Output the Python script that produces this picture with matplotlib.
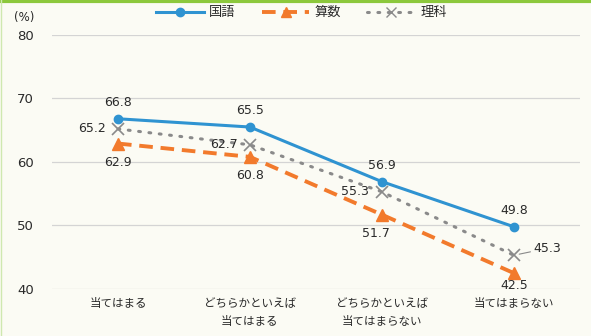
import matplotlib as mpl
mpl.use("Agg")
import matplotlib.pyplot as plt
from matplotlib.lines import Line2D

plt.rcParams["font.family"] = ["DejaVu Sans", "Noto Sans CJK JP"]

categories = ["当てはまる", "どちらかといえば\n当てはまる", "どちらかといえば\n当てはまらない", "当てはまらない"]
kokugo = [66.8, 65.5, 56.9, 49.8]
sansu = [62.9, 60.8, 51.7, 42.5]
rika = [65.2, 62.7, 55.3, 45.3]
series_names = ["国語", "算数", "理科"]

BLUE = "#2f93d1"
ORANGE = "#f27a2c"
GRAY = "#8a8a8a"
BG = "#fbfbf4"
TXT = "#2a2a2a"

fig = plt.figure(figsize=(5.91, 3.36), dpi=100, facecolor=BG)
ax = fig.add_axes([0.088, 0.140, 0.893, 0.756], facecolor=BG)
x = list(range(len(categories)))

ax.plot(x, kokugo, color=BLUE, lw=2.2, marker="o", ms=6, zorder=4)
ax.plot(x, sansu, color=ORANGE, lw=2.8, ls=(0, (3.5, 2)), marker="^", ms=8, zorder=3)
ax.plot(x, rika, color=GRAY, lw=2.2, ls=(0, (0.6, 2.8)), dash_capstyle="round",
        marker="x", ms=8, mew=1.2, zorder=3)

ax.set_xlim(-0.5, 3.5)
ax.set_ylim(40, 80)
ax.set_yticks([40, 50, 60, 70, 80])
ax.grid(axis="y", color="#d4d4d4", lw=0.9)
ax.set_axisbelow(True)
for s in ax.spines.values():
    s.set_visible(False)
ax.tick_params(length=0, labelsize=9.5, colors=TXT, pad=13)
ax.tick_params(axis="x", labelsize=8.3, pad=6)
ax.set_xticks(x)
ax.set_xticklabels(categories, family=["Noto Sans CJK JP"], linespacing=1.45)
ax.text(-0.052, 1.045, "(%)", transform=ax.transAxes, fontsize=8.5, color=TXT,
        ha="center", va="bottom")

lab = dict(fontsize=9, color=TXT)
for i, v in enumerate(kokugo):
    ax.annotate(f"{v}", (i, v), xytext=(0, 7), textcoords="offset points",
                ha="center", va="bottom", **lab)
for i, v in enumerate(sansu):
    dx = -4 if i == 2 else 0
    dy = -4 if i == 3 else -9
    ax.annotate(f"{v}", (i, v), xytext=(dx, dy), textcoords="offset points",
                ha="center", va="top", **lab)
for i, v in enumerate(rika[:3]):
    ax.annotate(f"{v}", (i, v), xytext=(-9, 0), textcoords="offset points",
                ha="right", va="center", **lab)
ax.annotate(f"{rika[3]}", (3, rika[3]), xytext=(14, 5), textcoords="offset points",
            ha="left", va="center",
            arrowprops=dict(arrowstyle="-", color=GRAY, lw=0.8, shrinkA=0, shrinkB=4), **lab)

handles = [
    Line2D([], [], color=BLUE, lw=2.2, marker="o", ms=6),
    Line2D([], [], color=ORANGE, lw=2.8, ls=(0, (3.5, 2)), marker="^", ms=7),
    Line2D([], [], color=GRAY, lw=2.2, ls=(0, (0.6, 2.8)), marker="x", ms=7, dash_capstyle="round"),
]
leg = fig.legend(handles, series_names, loc="center", bbox_to_anchor=(0.51, 0.962), ncol=3,
                 frameon=False, handlelength=3.6, columnspacing=2.0, handletextpad=0.4,
                 prop={"family": "Noto Sans CJK JP", "size": 9.5})
for t in leg.get_texts():
    t.set_color(TXT)

fig.add_artist(Line2D([0, 1], [0.997, 0.997], transform=fig.transFigure, color="#8cc83c", lw=3))
fig.add_artist(Line2D([0.001, 0.001], [0, 1], transform=fig.transFigure, color="#cfe8b0", lw=1))

fig.savefig("out.png", dpi=100, facecolor=BG)
